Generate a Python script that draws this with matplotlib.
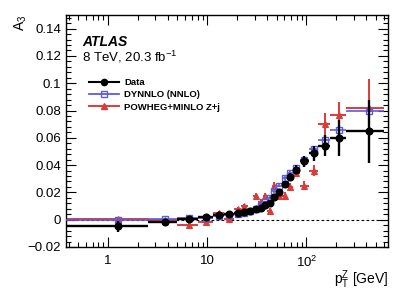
import matplotlib
matplotlib.use("Agg")
import matplotlib.pyplot as plt
import numpy as np
from matplotlib.lines import Line2D
from matplotlib.ticker import FixedLocator, MultipleLocator, LogLocator, NullFormatter

plt.rcParams['font.family'] = ['Liberation Sans', 'DejaVu Sans']
plt.rcParams['mathtext.fontset'] = 'custom'
plt.rcParams['mathtext.rm'] = 'Liberation Sans'
plt.rcParams['mathtext.it'] = 'Liberation Sans:italic'
plt.rcParams['mathtext.bf'] = 'Liberation Sans:bold'

# pT^Z bin edges [GeV]
bin_edges = [0, 2.5, 5.0, 8.0, 11.4, 14.9, 18.5, 22.0, 25.5, 29.0, 32.6, 36.4,
             40.4, 44.9, 50.2, 56.4, 63.9, 73.4, 85.4, 105.0, 132.0, 173.0, 253.0, 600.0]

data_vals = [-0.0050, -0.0020, 0.0005, 0.0018, 0.0032, 0.0044, 0.0052, 0.0058,
             0.0065, 0.0075, 0.0087, 0.0104, 0.0125, 0.0165, 0.0205, 0.0262,
             0.0316, 0.0365, 0.0427, 0.0485, 0.0543, 0.0597, 0.0648]
data_errs = [0.0037, 0.0012, 0.0010, 0.0010, 0.0010, 0.0010, 0.0010, 0.0010,
             0.0010, 0.0011, 0.0012, 0.0013, 0.0015, 0.0018, 0.0020, 0.0023,
             0.0027, 0.0032, 0.0040, 0.0055, 0.0075, 0.0130, 0.0230]

dynnlo_vals = [0.0000, 0.0005, 0.0010, 0.0015, 0.0025, 0.0032, 0.0042, 0.0052,
               0.0065, 0.0080, 0.0105, 0.0130, 0.0160, 0.0210, 0.0250, 0.0305,
               0.0340, 0.0380, 0.0440, 0.0515, 0.0585, 0.0660, 0.0795]
dynnlo_errs = [0.0005, 0.0005, 0.0005, 0.0005, 0.0005, 0.0005, 0.0006, 0.0006,
               0.0007, 0.0008, 0.0009, 0.0010, 0.0011, 0.0012, 0.0013, 0.0014,
               0.0015, 0.0016, 0.0018, 0.0020, 0.0022, 0.0025, 0.0030]

powheg_vals = [0.0003, 0.0000, -0.0040, -0.0015, 0.0050, 0.0005, 0.0080, 0.0100,
               0.0060, 0.0176, 0.0130, 0.0176, 0.0066, 0.0250, 0.0176, 0.0176,
               0.0240, 0.0340, 0.0250, 0.0360, 0.0700, 0.0770, 0.0815]
powheg_errs = [0.0010, 0.0010, 0.0012, 0.0012, 0.0015, 0.0015, 0.0015, 0.0015,
               0.0018, 0.0018, 0.0020, 0.0020, 0.0020, 0.0025, 0.0025, 0.0025,
               0.0030, 0.0030, 0.0035, 0.0040, 0.0080, 0.0093, 0.0215]

labels = ["Data", "DYNNLO (NNLO)", "POWHEG+MINLO Z+j"]

xmin, xmax = 0.377, 665
ymin, ymax = -0.02, 0.15

fig = plt.figure(figsize=(4.09, 2.94), dpi=100)
ax = fig.add_axes([0.1614, 0.160, 0.9487 - 0.1614, 0.949 - 0.160])
ax.set_xscale('log')

edges = np.array(bin_edges, dtype=float)
lo = np.maximum(edges[:-1], xmin)
hi = edges[1:]
centers = 0.5 * (edges[:-1] + edges[1:])
xerr = [centers - lo, hi - centers]

red = '#dd3a3a'
blue = '#5c5cdc'

ax.axhline(0, color='black', lw=0.8, ls=(0, (2.5, 2)), zorder=1)

ax.errorbar(centers, powheg_vals, yerr=powheg_errs, xerr=xerr, fmt='^',
            color=red, ms=4.5, mew=0.8, elinewidth=1.4, capsize=0, zorder=2)
ax.errorbar(centers, dynnlo_vals, yerr=dynnlo_errs, xerr=xerr, fmt='s',
            color=blue, mfc='none', mec=blue, ms=5, mew=1.0, elinewidth=1.2,
            capsize=0, zorder=3)
ax.errorbar(centers, data_vals, yerr=data_errs, xerr=xerr, fmt='o',
            color='black', ms=4.8, elinewidth=1.7, capsize=0, zorder=4)

ax.set_xlim(xmin, xmax)
ax.set_ylim(ymin, ymax)

ax.xaxis.set_major_locator(FixedLocator([1, 10, 100]))
ax.set_xticklabels(['1', '10', r'$10^2$'])
ax.xaxis.set_minor_locator(LogLocator(base=10, subs=np.arange(2, 10)))
ax.xaxis.set_minor_formatter(NullFormatter())
ax.yaxis.set_minor_locator(MultipleLocator(0.004))
ax.set_yticks([-0.02, 0, 0.02, 0.04, 0.06, 0.08, 0.1, 0.12, 0.14])
ax.set_yticklabels(['\u22120.02', '0', '0.02', '0.04', '0.06', '0.08', '0.1', '0.12', '0.14'])

ax.tick_params(which='both', direction='in', top=True, right=True, labelsize=9.5)
ax.tick_params(which='major', length=7, width=0.8)
ax.tick_params(which='minor', length=3.5, width=0.8)
ax.tick_params(axis='x', pad=6)
for s in ax.spines.values():
    s.set_linewidth(1.0)

ax.set_ylabel(r'$\mathrm{A}_{3}$', fontsize=10, loc='top')
ax.yaxis.set_label_coords(-0.115, 1.0)
fig.text(0.9487, 1 - 284 / 294, r'$\mathrm{p}_{\mathrm{T}}^{\mathrm{Z}}$ [GeV]',
         fontsize=10, ha='right', va='baseline')

ax.text(0.05, 0.865, 'ATLAS', transform=ax.transAxes, fontsize=10,
        fontweight='bold', fontstyle='italic')
ax.text(0.05, 0.80, r'8 TeV, 20.3 fb$^{-1}$', transform=ax.transAxes, fontsize=9.5)

handles = [
    Line2D([], [], color='black', marker='o', ms=4.5, lw=1.5),
    Line2D([], [], color=blue, marker='s', mfc='none', ms=5, mew=1.0, lw=1.3),
    Line2D([], [], color=red, marker='^', ms=4.5, lw=1.4),
]
ax.legend(handles, labels, loc='upper left',
          bbox_to_anchor=(0.06, 0.745), frameon=False,
          prop={'weight': 'bold', 'size': 6.8}, handlelength=3.2,
          handletextpad=0.5, labelspacing=0.35, borderaxespad=0)

fig.savefig('out.png', dpi=100)
